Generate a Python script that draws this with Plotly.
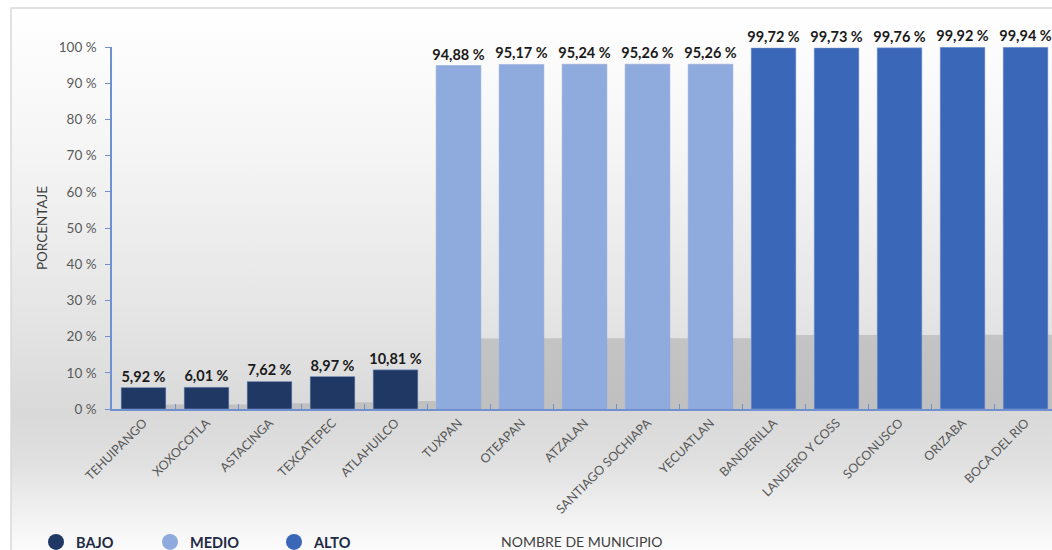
import plotly.graph_objects as go
from urllib.parse import quote

# ---------------- data ----------------
municipios = ["TEHUIPANGO", "XOXOCOTLA", "ASTACINGA", "TEXCATEPEC", "ATLAHUILCO",
              "TUXPAN", "OTEAPAN", "ATZALAN", "SANTIAGO SOCHIAPA", "YECUATLAN",
              "BANDERILLA", "LANDERO Y COSS", "SOCONUSCO", "ORIZABA", "BOCA DEL RIO"]
porcentajes = [5.92, 6.01, 7.62, 8.97, 10.81,
               94.88, 95.17, 95.24, 95.26, 95.26,
               99.72, 99.73, 99.76, 99.92, 99.94]
niveles = ["BAJO"] * 5 + ["MEDIO"] * 5 + ["ALTO"] * 5
nivel_nombres = ["BAJO", "MEDIO", "ALTO"]
y_ticks = [0, 10, 20, 30, 40, 50, 60, 70, 80, 90, 100]
y_ticklabels = [f"{t} %" for t in y_ticks]

# ---------------- style ----------------
colores = {"BAJO": "#203864", "MEDIO": "#8FAADC", "ALTO": "#3A67B8"}
axis_color = "#7090D0"
font_main = "Lato, 'Open Sans', sans-serif"

W, H = 1052, 550
ML, MR, MT, MB = 112, 0, 47, 141
PW = W - ML - MR
PH = H - MT - MB


def px_to_paper_x(px):
    return (px - ML) / PW


def px_to_paper_y(py):
    return (H - MB - py) / PH


labels = [f"{v:.2f}".replace(".", ",") + " %" for v in porcentajes]
bar_colors = [colores[n] for n in niveles]

fig = go.Figure()

# soft shadow behind bars
fig.add_trace(go.Bar(
    x=municipios, y=[v * 0.205 for v in porcentajes],
    width=0.62, offset=0.02,
    marker=dict(color="rgba(165,165,165,0.5)", line=dict(width=0)),
    hoverinfo="skip", showlegend=False,
))

fig.add_trace(go.Bar(
    x=municipios, y=porcentajes,
    width=0.71,
    marker=dict(color=bar_colors, line=dict(color="rgba(140,165,215,0.6)", width=0.8)),
    text=labels, textposition="outside", cliponaxis=False, constraintext="none",
    textfont=dict(family=font_main, size=14.5, color="#1a1a1a", weight="bold"),
    showlegend=False,
))

# legend entries (circles), each in its own legend for exact placement
legend_names = ["legend", "legend2", "legend3"]
legend_px = [36, 150, 274]
for nombre, lg in zip(nivel_nombres, legend_names):
    fig.add_trace(go.Scatter(
        x=[None], y=[None], mode="markers", name=nombre, legend=lg,
        marker=dict(symbol="circle", size=18, color=colores[nombre]),
    ))

legend_common = dict(
    orientation="h", yanchor="middle", xanchor="left",
    bgcolor="rgba(0,0,0,0)",
    font=dict(family=font_main, size=14.5, color="#1f2a44", weight="bold"),
    itemsizing="trace",
)
layout_legends = {}
for lg, lx in zip(legend_names, legend_px):
    layout_legends[lg] = dict(x=px_to_paper_x(lx), y=px_to_paper_y(542), **legend_common)

# background gradient (svg data uri)
svg = ('<svg xmlns="http://www.w3.org/2000/svg" width="100" height="100" viewBox="0 0 100 100" '
       'preserveAspectRatio="none"><defs><linearGradient id="g" x1="0" y1="0" x2="0" y2="1">'
       '<stop offset="0" stop-color="#ffffff"/>'
       '<stop offset="0.26" stop-color="#f5f5f5"/>'
       '<stop offset="0.54" stop-color="#e6e6e6"/>'
       '<stop offset="0.745" stop-color="#d9d9d9"/>'
       '<stop offset="0.83" stop-color="#e0e0e0"/>'
       '<stop offset="0.93" stop-color="#f2f2f2"/>'
       '<stop offset="1" stop-color="#fdfdfd"/>'
       '</linearGradient></defs><rect width="100" height="100" fill="url(#g)"/></svg>')
bg_src = "data:image/svg+xml;charset=utf-8," + quote(svg)

fig.update_layout(
    width=W, height=H,
    margin=dict(l=ML, r=MR, t=MT, b=MB, autoexpand=False),
    paper_bgcolor="white", plot_bgcolor="rgba(0,0,0,0)",
    barmode="overlay",
    font=dict(family=font_main, color="#595959"),
    images=[dict(
        source=bg_src, xref="paper", yref="paper",
        x=px_to_paper_x(11), y=px_to_paper_y(8),
        sizex=(W + 20 - 11) / PW, sizey=(H + 5 - 8) / PH,
        xanchor="left", yanchor="top", sizing="stretch", layer="below",
    )],
    shapes=[dict(
        type="rect", xref="paper", yref="paper",
        x0=px_to_paper_x(11), x1=px_to_paper_x(W + 20),
        y0=px_to_paper_y(H + 20), y1=px_to_paper_y(8),
        line=dict(color="#d9d9d9", width=1.5), fillcolor="rgba(0,0,0,0)", layer="below",
    )],
    annotations=[dict(
        text="NOMBRE DE MUNICIPIO", xref="paper", yref="paper",
        x=px_to_paper_x(581), y=px_to_paper_y(541),
        xanchor="center", yanchor="middle", showarrow=False,
        font=dict(family=font_main, size=14, color="#404040"),
    )],
    xaxis=dict(
        type="category", range=[-0.5, 14.42],
        showline=True, linecolor=axis_color, linewidth=1.5,
        ticks="inside", tickson="boundaries", ticklen=5, tickcolor=axis_color,
        tickangle=-45, tickfont=dict(family=font_main, size=12.5, color="#595959"),
        showgrid=False, zeroline=False, automargin=False,
    ),
    yaxis=dict(
        range=[0, 100], tickvals=y_ticks, ticktext=y_ticklabels,
        showline=True, linecolor=axis_color, linewidth=1.5,
        ticks="outside", ticklen=5, tickcolor=axis_color,
        tickfont=dict(family=font_main, size=13.5, color="#595959"),
        ticklabelstandoff=6,
        title=dict(text="PORCENTAJE", standoff=8,
                   font=dict(family=font_main, size=13.5, color="#404040")),
        showgrid=False, zeroline=False, automargin=False,
    ),
    **layout_legends,
)

fig.write_html("out.html", config={"displayModeBar": False},
               post_script="document.body.style.margin='0';document.body.style.overflow='hidden';")
